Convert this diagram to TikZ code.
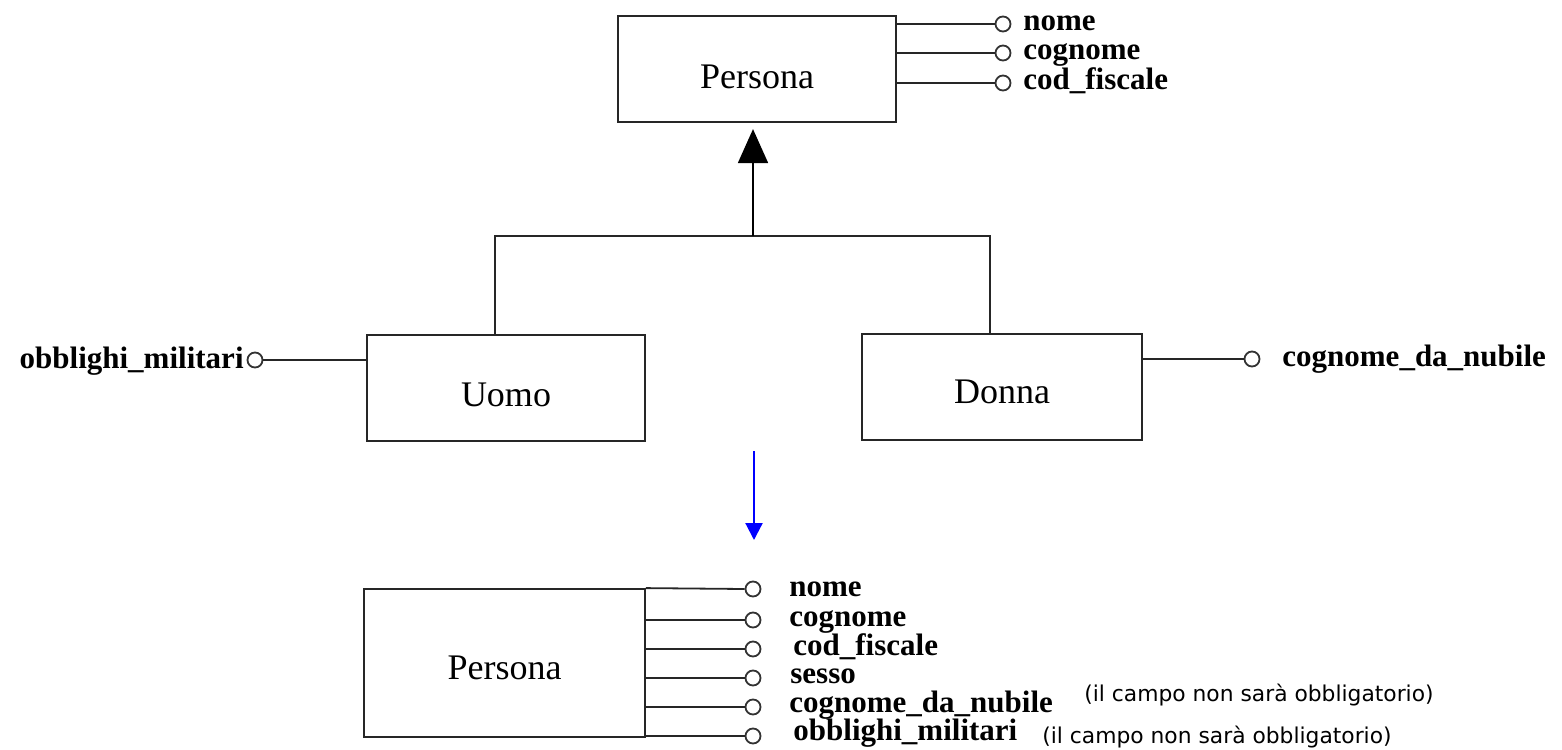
\documentclass[tikz,border=0pt]{standalone}
\usepackage{fontspec}
\setmainfont{Liberation Serif}
\newfontfamily\notefont{DejaVu Sans}
\usetikzlibrary{arrows.meta}
\begin{document}
\begin{tikzpicture}[x=0.5pt,y=-0.5pt,
  classbox/.style={draw=black!85,line width=1.1pt,rectangle,inner sep=0pt},
  classname/.style={font=\fontsize{18}{20}\selectfont,inner sep=0pt},
  attr/.style={draw=black!80,line width=0.9pt,circle,inner sep=0pt,minimum size=7.5pt,fill=white},
  attrtext/.style={anchor=base west,inner sep=0pt,font=\bfseries\fontsize{15.5}{18}\selectfont},
  link/.style={draw=black!85,line width=0.9pt},
  note/.style={anchor=mid west,inner sep=0pt,font=\notefont\fontsize{10.9}{13}\selectfont}]
\useasboundingbox[fill=white] (0,0) rectangle (1562,749);

% ---------- top Persona ----------
\node[classbox,minimum width=139pt,minimum height=53pt,
      label={[classname,yshift=-4pt]center:Persona}] (P1) at (757,69) {};
\node[attr] (a1) at (1003,24) {};
\node[attr] (a2) at (1003,53) {};
\node[attr] (a3) at (1003,83) {};
\draw[link] (P1.east |- a1) -- (a1.west);
\draw[link] (P1.east |- a2) -- (a2.west);
\draw[link] (P1.east |- a3) -- (a3.west);
\node[attrtext] (t1) at (1023,31) {nome};
\node[attrtext] (t2) at (1023,60) {cognome};
\node[attrtext] (t3) at (1023,90) {cod\_fiscale};

% ---------- Uomo / Donna ----------
\node[classbox,minimum width=139pt,minimum height=53pt,
      label={[classname,yshift=-3.5pt]center:Uomo}] (U) at (506,388) {};
\node[classbox,minimum width=140pt,minimum height=53pt,
      label={[classname,yshift=-2.5pt]center:Donna}] (D) at (1002,387) {};

\coordinate (jl) at (495,236);
\coordinate (jm) at (753,236);
\coordinate (jr) at (990,236);
\draw[link] (U.north -| jl) -- (jl) -- (jr) -- (D.north -| jr);
\draw[link,shorten >=3pt,-{Triangle[width=15pt,length=17pt]},draw=black,fill=black] (jm) -- (P1.south -| jm);

\node[attr] (um) at (255,360) {};
\draw[link] (U.west |- um) -- (um.east);
\node[anchor=base east,inner sep=0pt,font=\bfseries\fontsize{15.5}{18}\selectfont] (umt) at (244,368) {obblighi\_militari};

\node[attr] (dn) at (1252,359) {};
\draw[link] (D.east |- dn) -- (dn.west);
\node[attrtext] (dnt) at (1282,366) {cognome\_da\_nubile};

% ---------- blue arrow ----------
\coordinate (b1) at (754,451);
\coordinate (b2) at (754,540);
\draw[blue,line width=1.1pt,-{Triangle[width=8.5pt,length=8.5pt]}] (b1) -- (b2);

% ---------- bottom Persona ----------
\node[classbox,line width=0.9pt,minimum width=140.5pt,minimum height=74pt,
      label={[classname,yshift=-2.5pt]center:Persona}] (P2) at (504.5,663) {};
\coordinate (v1) at (645,589);
\coordinate (v2) at (645,737);
\draw[link] (v1) -- (v2);
\node[attr] (c1) at (753,589) {};
\node[attr] (c2) at (753,620) {};
\node[attr] (c3) at (753,649) {};
\node[attr] (c4) at (753,678) {};
\node[attr] (c5) at (753,707) {};
\node[attr] (c6) at (753,736) {};
\draw[link] (P2.north east) -- (c1.west);
\draw[link] (v1 |- c2) -- (c2.west);
\draw[link] (v1 |- c3) -- (c3.west);
\draw[link] (v1 |- c4) -- (c4.west);
\draw[link] (v1 |- c5) -- (c5.west);
\draw[link] (P2.south east |- c6) -- (c6.west);
\node[attrtext] (s1) at (789,596) {nome};
\node[attrtext] (s2) at (789,626) {cognome};
\node[attrtext] (s3) at (793,655) {cod\_fiscale};
\node[attrtext] (s4) at (790,683) {sesso};
\node[attrtext] (s5) at (789,712) {cognome\_da\_nubile};
\node[attrtext] (s6) at (793,740) {obblighi\_militari};

\node[note] (n1) at (1084,697) {(il campo non sarà obbligatorio)};
\node[note] (n2) at (1042,739) {(il campo non sarà obbligatorio)};
\end{tikzpicture}
\end{document}
